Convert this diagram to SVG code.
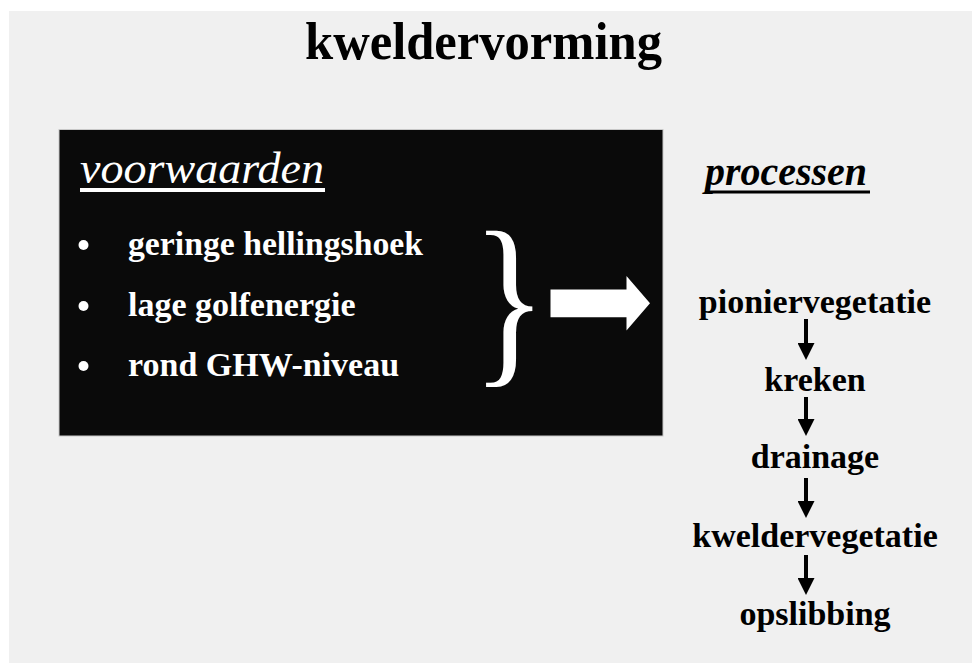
<svg xmlns="http://www.w3.org/2000/svg" width="972" height="663" viewBox="0 0 972 663">
  <defs>
    <style>
      .serif { font-family: "Liberation Serif", "Times New Roman", serif; }
      .title { font-size: 53px; font-weight: bold; fill: #000; }
      .head-w { font-size: 45px; font-style: italic; fill: #fff; }
      .head-b { font-size: 40px; font-style: italic; font-weight: bold; fill: #000; }
      .item { font-size: 34px; font-weight: bold; fill: #fff; }
      .proc { font-size: 34px; font-weight: bold; fill: #000; text-anchor: middle; }
      .conn { stroke: #000; stroke-width: 4; fill: none; }
    </style>
    <marker id="ah" markerUnits="userSpaceOnUse" markerWidth="17" markerHeight="17" viewBox="0 0 17 17" refX="1" refY="8.5" orient="auto">
      <path d="M0,0 L17,8.5 L0,17 Z" fill="#000"/>
    </marker>
  </defs>

  <rect x="0" y="0" width="972" height="663" fill="#ffffff"/>
  <rect x="9" y="11" width="963" height="652" fill="#f0f0f0"/>

  <g id="title">
    <text class="serif title" x="305" y="59" textLength="357" lengthAdjust="spacingAndGlyphs">kweldervorming</text>
  </g>

  <g id="voorwaarden">
    <rect x="59" y="129.5" width="604" height="306.5" fill="#0a0a0a" stroke="#c8c8c8" stroke-width="1"/>
    <text class="serif head-w" x="80" y="183" textLength="244" lengthAdjust="spacingAndGlyphs">voorwaarden</text>
    <rect x="80" y="188" width="245" height="4" fill="#fff"/>
    <circle cx="83.5" cy="245" r="5" fill="#fff"/>
    <text class="serif item" x="128" y="255" textLength="295" lengthAdjust="spacingAndGlyphs">geringe hellingshoek</text>
    <circle cx="83.5" cy="306" r="5" fill="#fff"/>
    <text class="serif item" x="128" y="316">lage golfenergie</text>
    <circle cx="83.5" cy="366" r="5" fill="#fff"/>
    <text class="serif item" x="128" y="376">rond GHW-niveau</text>
    <text class="serif" x="0" y="0" fill="#fff" font-size="189" transform="translate(472,362) scale(0.82,1)">}</text>
    <path d="M550.5,289.5 L626.5,289.5 L626.5,276 L650,303.3 L626.5,330.5 L626.5,317.3 L550.5,317.3 Z" fill="#fff"/>
  </g>

  <g id="processen">
    <text class="serif head-b" x="705" y="185" textLength="162" lengthAdjust="spacingAndGlyphs">processen</text>
    <rect x="705" y="190.5" width="165" height="3" fill="#000"/>
  </g>

  <g id="pioniervegetatie"><text class="serif proc" x="815" y="313">pioniervegetatie</text></g>
  <g id="kreken"><text class="serif proc" x="815" y="390.5">kreken</text></g>
  <g id="drainage"><text class="serif proc" x="815" y="468">drainage</text></g>
  <g id="kweldervegetatie"><text class="serif proc" x="815" y="546.5">kweldervegetatie</text></g>
  <g id="opslibbing"><text class="serif proc" x="815" y="624.5">opslibbing</text></g>

  <g id="connectors">
    <line class="conn" x1="806" y1="319" x2="806" y2="344" marker-end="url(#ah)"/>
    <line class="conn" x1="806" y1="397" x2="806" y2="420" marker-end="url(#ah)"/>
    <line class="conn" x1="806" y1="478" x2="806" y2="502" marker-end="url(#ah)"/>
    <line class="conn" x1="806" y1="555" x2="806" y2="579" marker-end="url(#ah)"/>
  </g>
</svg>
